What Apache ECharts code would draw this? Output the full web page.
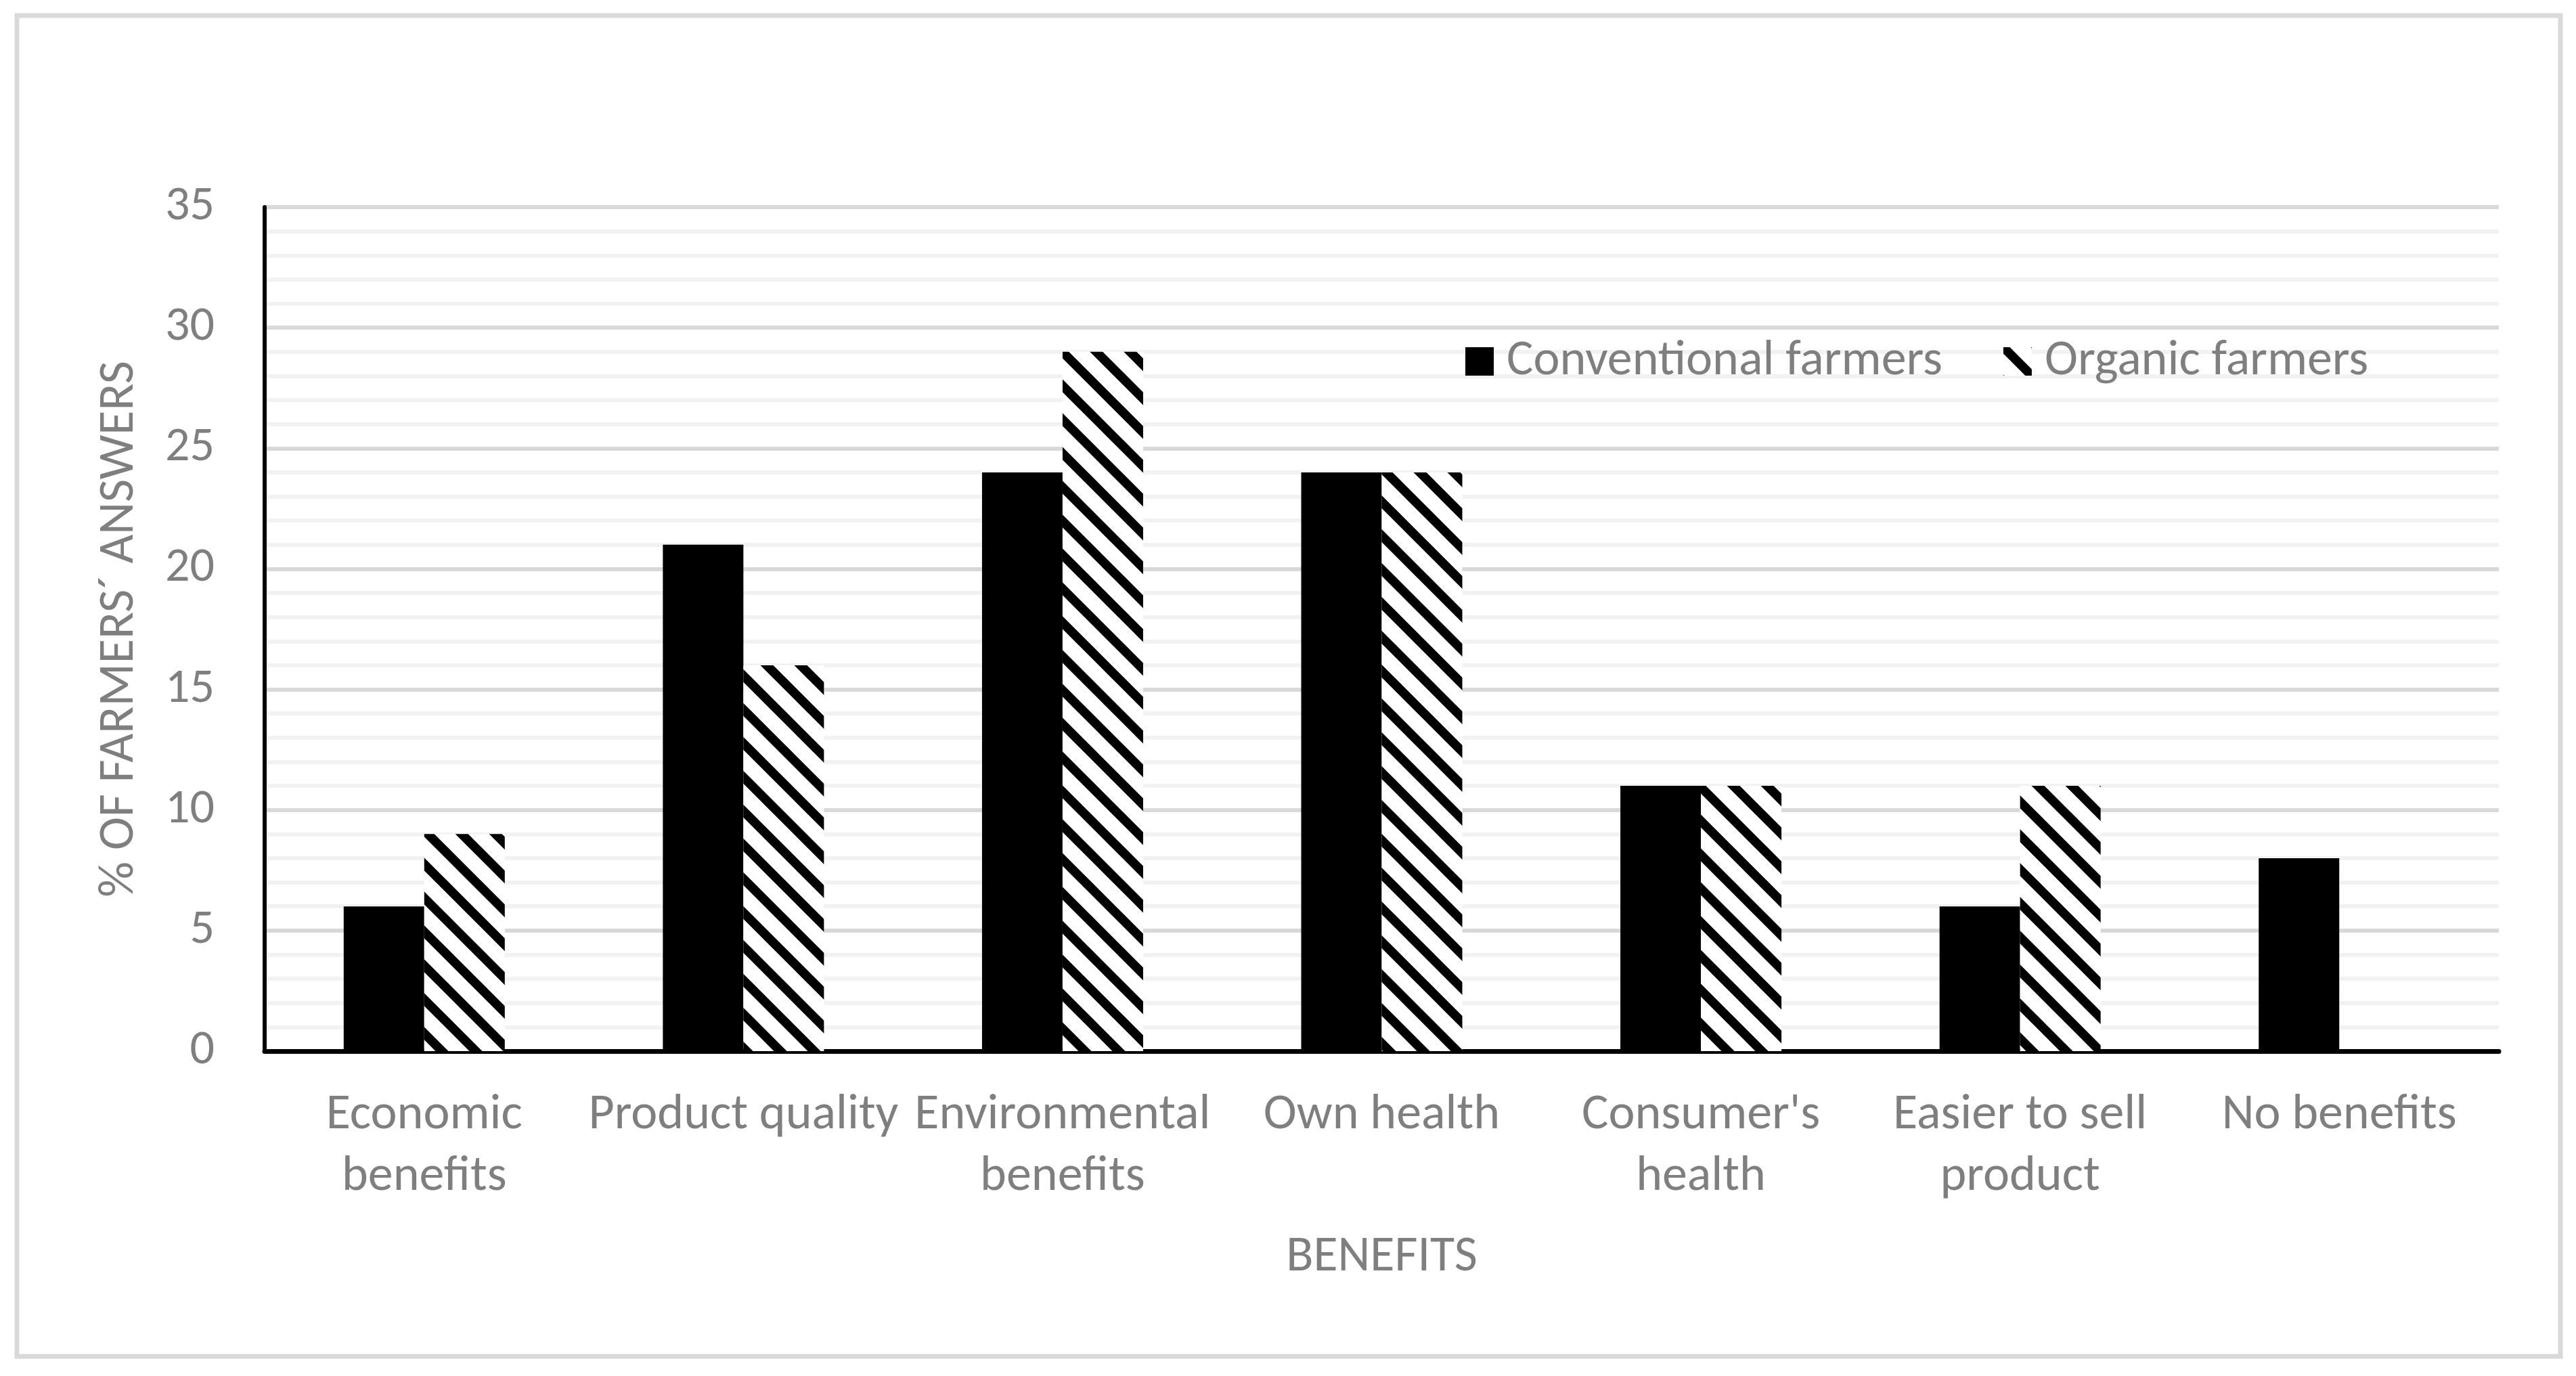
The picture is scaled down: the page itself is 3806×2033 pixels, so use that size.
<!DOCTYPE html>
<html>
<head>
<meta charset="utf-8">
<script src="https://cdn.jsdelivr.net/npm/echarts@6/dist/echarts.min.js"></script>
<style>
html,body{margin:0;padding:0;background:#fff;}
#chart{width:3806px;height:2033px;}
</style>
</head>
<body>
<div id="chart"></div>
<script>
const categories = ["Economic\nbenefits", "Product quality", "Environmental\nbenefits", "Own health", "Consumer's\nhealth", "Easier to sell\nproduct", "No benefits"];
const conventional = [6, 21, 24, 24, 11, 6, 8];
const organic = [9, 16, 29, 24, 11, 11, 0];
const seriesNames = ["Conventional farmers", "Organic farmers"];
const yTicks = [0, 5, 10, 15, 20, 25, 30, 35];

const FONT = "Carlito, Lato, 'Open Sans', sans-serif";
const GREY = '#7f7f7f';

function makeHatch() {
  const s = 50;
  const c = document.createElement('canvas');
  c.width = s; c.height = s;
  const g = c.getContext('2d');
  g.fillStyle = '#fff';
  g.fillRect(0, 0, s, s);
  g.strokeStyle = '#000';
  g.lineWidth = 13.5;
  for (let k = -2; k <= 2; k++) {
    g.beginPath();
    g.moveTo(-20, -20 + k * s);
    g.lineTo(s + 20, s + 20 + k * s);
    g.stroke();
  }
  return c;
}

const chart = echarts.init(document.getElementById('chart'), null, {renderer: 'canvas'});
const option = {
  backgroundColor: '#fff',
  animation: false,
  textStyle: {fontFamily: FONT},
  graphic: [{
    type: 'rect',
    shape: {x: 25, y: 23, width: 3758, height: 1981},
    style: {fill: 'none', stroke: '#d9d9d9', lineWidth: 7},
    silent: true, z: -10
  }],
  legend: {
    data: seriesNames.map(n => ({name: n, icon: 'rect'})),
    left: 2160,
    top: 492,
    itemWidth: 42,
    itemHeight: 42,
    itemGap: 90,
    textStyle: {color: GREY, fontSize: 74, fontFamily: FONT, padding: [0, 0, 0, 14]}
  },
  grid: {left: 391, right: 114, top: 306, bottom: 480, containLabel: false},
  xAxis: {
    type: 'category',
    data: categories,
    name: 'BENEFITS',
    nameLocation: 'middle',
    nameGap: 268,
    nameTextStyle: {color: GREY, fontSize: 74, fontFamily: FONT},
    axisLine: {show: true, onZero: false, lineStyle: {color: '#000', width: 7}},
    axisTick: {show: false},
    axisLabel: {color: GREY, fontSize: 74, fontFamily: FONT, lineHeight: 91, margin: 50, interval: 0}
  },
  yAxis: {
    type: 'value',
    min: 0, max: 35, interval: 5,
    name: '% OF FARMERS\u00B4 ANSWERS',
    nameLocation: 'middle',
    nameRotate: 90,
    nameGap: 177,
    nameTextStyle: {color: GREY, fontSize: 74, fontFamily: FONT},
    axisLine: {show: true, lineStyle: {color: '#000', width: 6}},
    axisTick: {show: false},
    axisLabel: {color: GREY, fontSize: 72, fontFamily: FONT, margin: 74,
      formatter: v => yTicks.includes(v) ? String(v) : ''},
    splitLine: {show: true, lineStyle: {color: '#d9d9d9', width: 6}},
    minorTick: {show: false, splitNumber: 5},
    minorSplitLine: {show: true, lineStyle: {color: '#f2f2f2', width: 6}}
  },
  series: [
    {
      name: seriesNames[0], type: 'bar', data: conventional,
      barWidth: 119, barGap: '0%',
      itemStyle: {color: '#000'}
    },
    {
      name: seriesNames[1], type: 'bar', data: organic,
      barWidth: 119, barGap: '0%',
      itemStyle: {color: {image: makeHatch(), repeat: 'repeat'}}
    }
  ]
};
chart.setOption(option);
</script>
</body>
</html>
